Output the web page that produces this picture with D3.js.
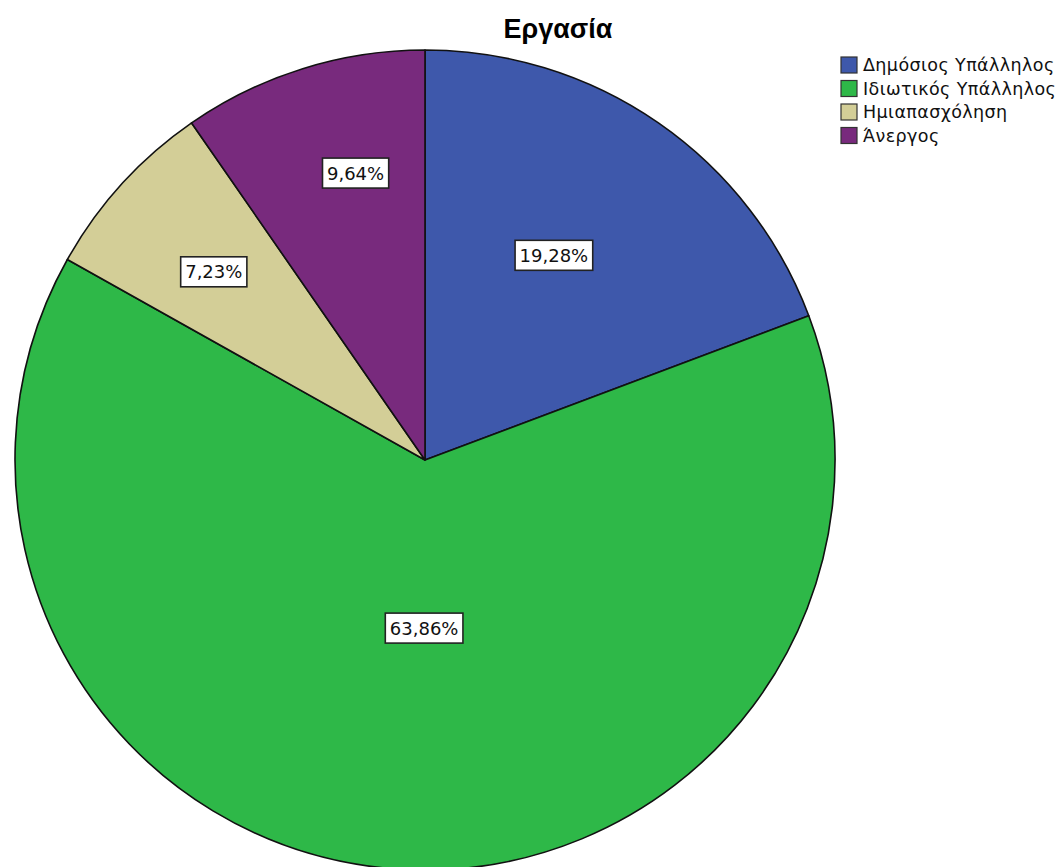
<!DOCTYPE html>
<html>
<head>
<meta charset="utf-8">
<script src="https://cdn.jsdelivr.net/npm/d3@7/dist/d3.min.js"></script>
<style>
  html, body { margin: 0; padding: 0; background: #ffffff; }
  svg { display: block; }
</style>
</head>
<body>
<svg id="chart" width="1057" height="867"></svg>
<script>
// Employment status shares (percent)
const categories = ["Δημόσιος Υπάλληλος", "Ιδιωτικός Υπάλληλος", "Ημιαπασχόληση", "Άνεργος"];
const values = [19.28, 63.86, 7.23, 9.64];
const colors = ["#3e58ab", "#2eb848", "#d3ce97", "#782a7d"];
const title = "Εργασία";

// Label anchor inside each slice: angle (degrees clockwise from 12 o'clock) and fraction of radius
const labelAngles = [32.2, 180.3, 311.7, 346.4];
const labelRadii = [0.59, 0.41, 0.69, 0.72];

const svg = d3.select("#chart");
const cx = 425, cy = 460, radius = 410;

const fmt = v => v.toFixed(2).replace(".", ",") + "%";

const pie = d3.pie().sort(null).value(d => d)(values);
const arc = d3.arc().innerRadius(0).outerRadius(radius);

const g = svg.append("g").attr("transform", `translate(${cx},${cy})`);

g.selectAll("path.slice")
  .data(pie)
  .join("path")
  .attr("class", "slice")
  .attr("d", arc)
  .attr("fill", (d, i) => colors[i])
  .attr("stroke", "#111")
  .attr("stroke-width", 1.6)
  .attr("stroke-linejoin", "round");

// Value labels in white boxes
const labels = g.selectAll("g.lbl")
  .data(pie)
  .join("g")
  .attr("class", "lbl")
  .attr("transform", (d, i) => {
    const a = labelAngles[i] * Math.PI / 180;
    const r = labelRadii[i] * radius;
    return `translate(${r * Math.sin(a)},${-r * Math.cos(a)})`;
  });

labels.each(function(d, i) {
  const sel = d3.select(this);
  const rect = sel.append("rect");
  const txt = sel.append("text")
    .attr("text-anchor", "middle")
    .attr("dy", "0.36em")
    .attr("font-family", "'DejaVu Sans', sans-serif")
    .attr("font-size", 18)
    .attr("fill", "#111")
    .text(fmt(values[i]));
  const w = txt.node().getComputedTextLength() + 9;
  const h = 30;
  rect.attr("x", -w / 2).attr("y", -h / 2)
    .attr("width", w).attr("height", h)
    .attr("fill", "#ffffff")
    .attr("stroke", "#222")
    .attr("stroke-width", 1.6);
});

// Title
svg.append("text")
  .attr("x", 558)
  .attr("y", 38)
  .attr("text-anchor", "middle")
  .attr("font-family", "'Liberation Sans', Arial, sans-serif")
  .attr("font-weight", "bold")
  .attr("font-size", 27)
  .attr("fill", "#000")
  .text(title);

// Legend
const legend = svg.append("g").attr("transform", "translate(841,57)");
const rowH = 23.5;
const items = legend.selectAll("g.item")
  .data(categories)
  .join("g")
  .attr("class", "item")
  .attr("transform", (d, i) => `translate(0,${i * rowH})`);

items.append("rect")
  .attr("width", 16).attr("height", 16)
  .attr("fill", (d, i) => colors[i])
  .attr("stroke", "#333")
  .attr("stroke-width", 1.2);

items.append("text")
  .attr("x", 22)
  .attr("y", 8)
  .attr("dy", "0.36em")
  .attr("font-family", "'DejaVu Sans', sans-serif")
  .attr("font-size", 17.5)
  .attr("letter-spacing", 0.4)
  .attr("fill", "#111")
  .text(d => d);
</script>
</body>
</html>
